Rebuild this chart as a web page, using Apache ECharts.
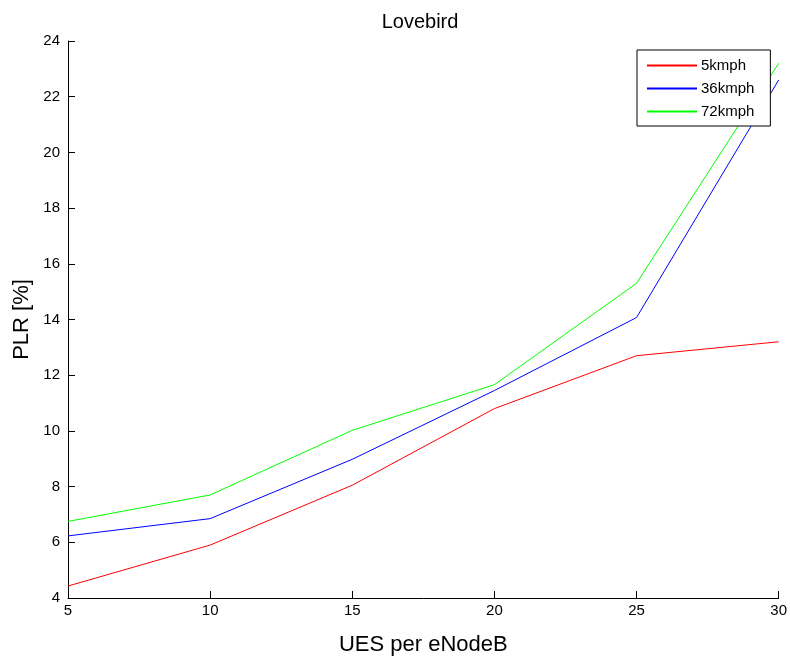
<!DOCTYPE html>
<html>
<head>
<meta charset="utf-8">
<script src="https://cdn.jsdelivr.net/npm/echarts@6/dist/echarts.min.js"></script>
<style>
  html, body { margin: 0; padding: 0; background: #fff; }
  #chart { width: 790px; height: 662px; }
</style>
</head>
<body>
<div id="chart"></div>
<script>
// UEs per eNodeB (x axis)
const ues = [5, 10, 15, 20, 25, 30];
// Packet loss ratio [%] per speed
const plr5 = [4.43, 5.9, 8.05, 10.8, 12.7, 13.2];
const plr36 = [6.23, 6.85, 8.98, 11.45, 14.07, 22.6];
const plr72 = [6.75, 7.7, 10.02, 11.66, 15.3, 23.2];
const seriesNames = ['5kmph', '36kmph', '72kmph'];
const seriesColors = ['#ff0000', '#0000ff', '#00ff00'];

const font = '"Liberation Sans", Arial, Helvetica, sans-serif';
const pairs = vals => ues.map((x, i) => [x, vals[i]]);

const chart = echarts.init(document.getElementById('chart'), null, { renderer: 'canvas' });
chart.setOption({
  backgroundColor: '#ffffff',
  animation: false,
  title: {
    text: 'Lovebird',
    left: 415,
    textAlign: 'center',
    top: 7,
    textStyle: { fontFamily: font, fontSize: 20, fontWeight: 'normal', color: '#000' }
  },
  legend: {
    orient: 'vertical',
    left: 637,
    top: 50,
    padding: [8, 16, 7, 10],
    itemGap: 8,
    itemWidth: 50,
    itemHeight: 2,
    icon: 'rect',
    backgroundColor: '#fff',
    borderColor: '#000',
    borderWidth: 1,
    textStyle: { fontFamily: font, fontSize: 15, color: '#000', padding: [0, 0, 0, -1] },
    data: seriesNames
  },
  grid: { left: 68, right: 11, top: 41, bottom: 64, containLabel: false },
  xAxis: {
    type: 'value',
    min: 5,
    max: 30,
    interval: 5,
    name: 'UES per eNodeB',
    nameLocation: 'middle',
    nameGap: 36,
    nameTextStyle: { fontFamily: font, fontSize: 22, color: '#000' },
    axisLine: { lineStyle: { color: '#000', width: 1 } },
    axisTick: { inside: true, length: 7, lineStyle: { color: '#000' } },
    axisLabel: { fontFamily: font, fontSize: 15, color: '#000', margin: 5 },
    splitLine: { show: false }
  },
  yAxis: {
    type: 'value',
    min: 4,
    max: 24,
    interval: 2,
    name: 'PLR [%]',
    nameLocation: 'middle',
    nameGap: 35,
    nameMoveOverlap: false,
    nameTextStyle: { fontFamily: font, fontSize: 22, color: '#000' },
    axisLine: { show: true, lineStyle: { color: '#000', width: 1 } },
    axisTick: { show: true, inside: true, length: 7, lineStyle: { color: '#000' } },
    axisLabel: { fontFamily: font, fontSize: 15, color: '#000', margin: 8 },
    splitLine: { show: false }
  },
  series: [plr5, plr36, plr72].map((vals, i) => ({
    name: seriesNames[i],
    type: 'line',
    data: pairs(vals),
    symbol: 'none',
    color: seriesColors[i],
    lineStyle: { width: 1, color: seriesColors[i] }
  }))
});
</script>
</body>
</html>
